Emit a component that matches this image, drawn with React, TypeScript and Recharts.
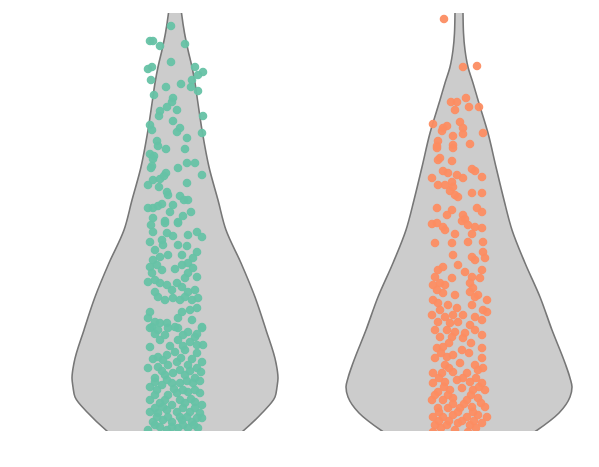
import { ComposedChart, Area, Scatter, XAxis, YAxis } from "recharts";

// violin density profile: y level and half-width of each violin at that level
const profileY = [431, 418, 398, 381, 364, 348, 331, 298, 264, 231, 201, 168, 134, 101, 68, 53, 44, 34, 18, 0, -14];
const greenHalf = [5, 6.5, 9.5, 13, 17, 20, 22.5, 27.5, 34, 43, 51, 66, 80, 91, 101, 103, 102, 100, 87, 68, 50];
const orangeHalf = [3.8, 4, 4.5, 6, 9, 14, 19, 29, 37, 45, 53, 66, 81, 93, 106, 111, 113, 111, 100, 77, 55];

const categories = ["A", "B"];
const centers = [0, 284];

// jittered observations: [offset from category centre, value]
const greenPoints: [number, number][] = [
  [-4, 405], [-25, 390], [-22, 390], [-15, 385], [10, 387], [-4, 369], [-27, 362], [-23, 364],
  [-24, 351], [20, 364], [28, 359], [23, 356], [-9, 344], [6, 347], [17, 351], [16, 344],
  [23, 340], [-21, 336], [-2, 333], [-3, 329], [-8, 324], [2, 321], [-15, 320], [-16, 315],
  [28, 315], [-2, 310], [-25, 306], [-23, 301], [5, 303], [2, 299], [12, 293], [27, 298],
  [-18, 290], [-17, 285], [-9, 282], [10, 282], [-25, 277], [-21, 275], [-22, 272], [-24, 263],
  [-23, 265], [3, 263], [12, 268], [20, 268], [-9, 258], [-11, 255], [27, 256], [-22, 251],
  [-27, 246], [-15, 252], [-16, 244], [12, 248], [-8, 239], [-7, 236], [5, 235], [9, 231],
  [13, 231], [-27, 223], [-22, 223], [-17, 225], [-13, 227], [-2, 226], [16, 219], [-5, 219],
  [-22, 213], [-10, 210], [3, 209], [-24, 206], [-22, 199], [-25, 189], [-20, 181], [-22, 171],
  [-25, 164], [-23, 158], [-27, 149], [-20, 151], [-15, 148], [-10, 208], [-8, 198], [-13, 191],
  [-12, 186], [3, 208], [13, 196], [22, 199], [27, 194], [3, 186], [12, 185], [-7, 176],
  [-15, 174], [7, 176], [22, 179], [18, 173], [13, 168], [7, 166], [-18, 166], [-13, 161],
  [13, 158], [22, 154], [10, 153], [-8, 146], [-3, 141], [2, 148], [7, 144], [13, 139],
  [10, 134], [-17, 134], [-10, 131], [-2, 133], [5, 131], [17, 131], [-20, 139], [20, 141],
  [23, 133], [22, 123], [15, 121], [7, 119], [3, 113], [-25, 119], [-27, 113], [-20, 109],
  [-15, 108], [-8, 108], [27, 104], [17, 111], [-23, 104], [0, 104], [-25, 103], [-17, 101],
  [-7, 103], [3, 103], [13, 99], [27, 103], [20, 94], [-15, 91], [-25, 84], [3, 91],
  [15, 89], [28, 86], [-17, 74], [-8, 76], [0, 79], [10, 81], [22, 78], [-27, 63],
  [-17, 64], [-7, 66], [2, 69], [13, 66], [22, 63], [27, 69], [-20, 53], [-10, 56],
  [-2, 58], [10, 56], [20, 53], [-25, 44], [-13, 46], [-3, 48], [5, 48], [18, 48],
  [-20, 36], [-7, 36], [2, 38], [13, 39], [25, 38], [-15, 28], [10, 28], [20, 29],
  [27, 26], [-3, 26], [-25, 19], [-17, 18], [-8, 21], [2, 19], [15, 19], [25, 18],
  [-22, 9], [-12, 11], [-3, 9], [7, 11], [17, 9], [27, 13], [-27, 1], [-15, 4],
  [-8, 1], [3, 3], [13, 3], [23, 3],
  [0, 162], [18, 163], [-2, 195], [8, 215], [-20, 97], [-10, 96], [8, 96], [22, 97],
  [-5, 85], [8, 85], [22, 86], [-22, 72], [-12, 71], [6, 73], [17, 72], [-13, 60],
  [5, 61], [15, 60], [26, 59], [-20, 49], [-8, 51], [12, 50], [25, 50], [-18, 41],
  [-1, 42], [8, 41], [20, 41], [-25, 31], [-10, 31], [5, 31], [16, 32], [-20, 23],
  [-12, 24], [8, 23], [20, 23], [-18, 14], [-7, 14], [5, 14], [12, 14], [22, 13],
  [-20, 6], [-3, 4], [8, 6], [19, 6],
];

const orangePoints: [number, number][] = [
  [-15, 412], [4, 364], [18, 365], [-8, 329], [-2, 329], [7, 333], [-4, 321], [10, 324],
  [20, 324], [-26, 307], [1, 309], [-12, 305], [-16, 303], [-17, 300], [4, 303], [4, 297],
  [24, 298], [-6, 295], [-21, 290], [-22, 285], [-6, 286], [11, 287], [-22, 283], [-6, 283],
  [-19, 273], [-21, 271], [-7, 270], [-16, 260], [-11, 258], [13, 262], [16, 260], [23, 254],
  [-27, 253], [-2, 256], [4, 253], [-21, 246], [-14, 246], [-7, 249], [-6, 244], [-9, 240],
  [-4, 236], [-1, 234], [13, 238], [23, 238], [-22, 223], [-7, 221], [-12, 216], [4, 216],
  [6, 212], [18, 223], [23, 219], [-27, 207], [-22, 208], [-16, 204], [-14, 201], [3, 210],
  [9, 206], [16, 204], [-4, 197], [13, 197], [23, 203], [-24, 188], [-7, 188], [9, 189],
  [24, 189], [24, 179], [26, 173], [16, 171], [13, 174], [-6, 176], [-1, 166], [-16, 164],
  [-21, 161], [-24, 154], [6, 159], [13, 154], [23, 161], [21, 153], [-7, 153], [-26, 146],
  [-19, 148], [-14, 146], [-22, 141], [11, 148], [14, 143], [-16, 138], [-4, 136], [11, 139],
  [19, 136], [16, 134], [-26, 131], [-21, 128], [28, 131], [-11, 126], [-2, 123], [-19, 121],
  [13, 126], [24, 121], [-27, 116], [-14, 114], [-6, 116], [4, 116], [16, 114], [28, 119],
  [-21, 109], [-9, 108], [-1, 109], [11, 106], [23, 111], [-24, 101], [-12, 101], [-4, 99],
  [16, 101], [-19, 94], [-7, 94], [6, 98], [23, 96], [4, 93], [-22, 83], [-16, 84],
  [3, 81], [23, 83], [-24, 73], [-12, 74], [-6, 76], [23, 73], [-14, 66], [1, 68],
  [16, 66], [-26, 58], [-17, 58], [-6, 59], [8, 58], [19, 61], [-26, 48], [-14, 49],
  [-2, 51], [11, 49], [23, 48], [-21, 39], [-9, 41], [3, 43], [14, 41], [26, 41],
  [-27, 31], [-16, 31], [-6, 33], [8, 31], [19, 33], [-21, 23], [-11, 23], [1, 23],
  [13, 24], [26, 24], [-26, 14], [-16, 14], [-6, 16], [8, 14], [19, 16], [28, 14],
  [-24, 6], [-12, 6], [-1, 8], [11, 6], [23, 8], [-26, -1], [-4, 1], [9, -1],
  [-10, 88], [12, 88], [-18, 78], [10, 78], [-10, 63], [24, 63], [-20, 53], [4, 53],
  [17, 53], [-15, 44], [20, 44], [-24, 36], [-11, 36], [12, 36], [-6, 27], [5, 27],
  [22, 28], [-20, 19], [-1, 19], [14, 19], [-20, 10], [-10, 10], [3, 10], [15, 10],
  [-18, 3], [17, 3],
];

const halves = [greenHalf, orangeHalf];
const colors = ["#66c2a5", "#fc8d62"];

const violinRows = profileY.map((y, i) => {
  const row: Record<string, number | number[]> = { y };
  categories.forEach((c, k) => {
    row[c] = [centers[k] - halves[k][i], centers[k] + halves[k][i]];
  });
  return row;
});

const pointSets = [greenPoints, orangePoints].map((pts, k) =>
  pts.map(([dx, y]) => ({ x: centers[k] + dx, y }))
);

const Dot = (color: string) => (props: any) => (
  <circle cx={props.cx} cy={props.cy} r={4.3} fill={color} fillOpacity={0.95} />
);

export default function App() {
  return (
    <div style={{ position: "absolute", left: 0, top: 0, width: 599, height: 467, overflow: "hidden", background: "#fff" }}>
      <ComposedChart
        width={610}
        height={467}
        layout="vertical"
        data={violinRows}
        margin={{ top: 13, right: 9, bottom: 36, left: 33 }}
      >
        <XAxis type="number" dataKey="x" domain={[-142, 426]} allowDataOverflow hide />
        <YAxis type="number" dataKey="y" domain={[0, 418]} allowDataOverflow reversed hide />
        {categories.map((c) => (
          <Area
            key={c}
            dataKey={c}
            type="monotone"
            fill="#cccccc"
            fillOpacity={1}
            stroke="#777777"
            strokeWidth={1.6}
            dot={false}
            activeDot={false}
            isAnimationActive={false}
          />
        ))}
        {pointSets.map((pts, k) => (
          <Scatter
            key={categories[k]}
            data={pts}
            shape={Dot(colors[k])}
            isAnimationActive={false}
          />
        ))}
      </ComposedChart>
    </div>
  );
}
